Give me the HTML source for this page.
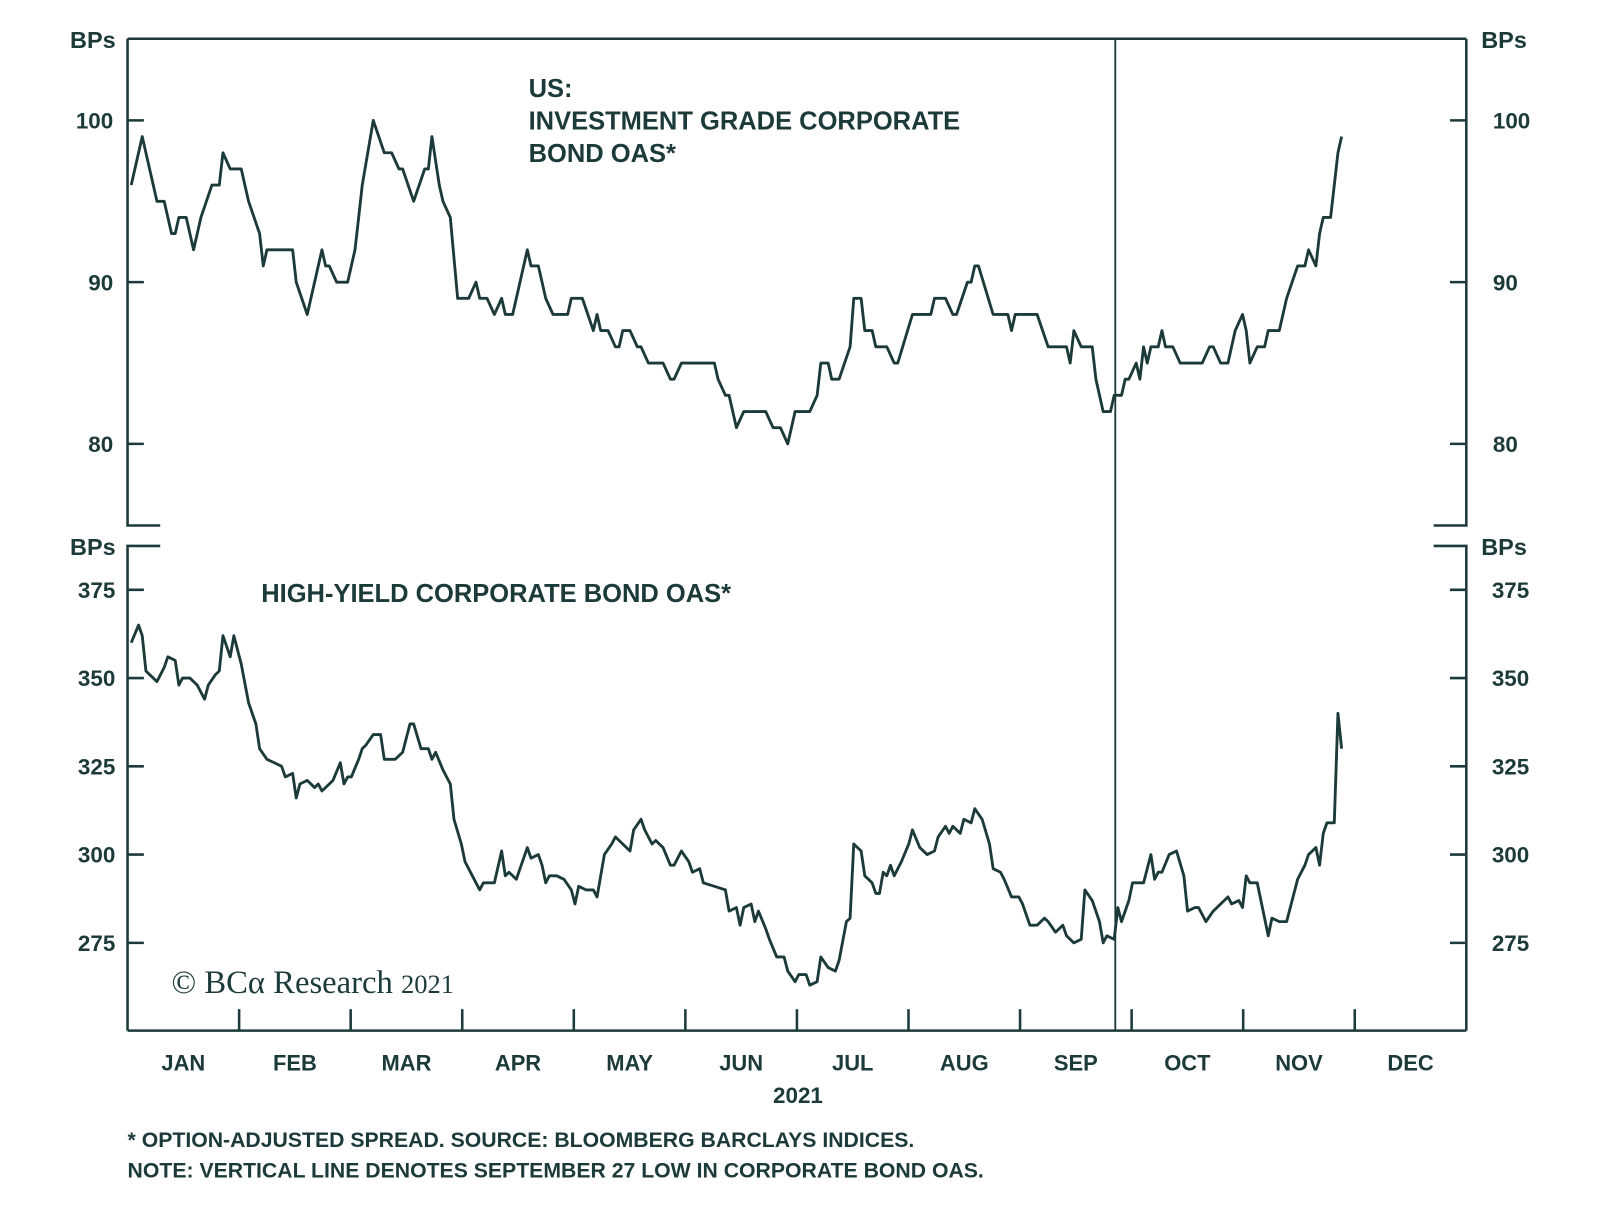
<!DOCTYPE html>
<html><head><meta charset="utf-8"><style>
body{margin:0;background:#fff}
svg text{font-family:"Liberation Sans",sans-serif;font-weight:bold;fill:#1d3a3a}
</style></head><body>
<svg id="chart" width="1600" height="1211" viewBox="0 0 1600 1211">
<g transform="scale(1.0204)">
<g id="frame" stroke="#1d3a3a" stroke-width="2.5" fill="none">
<line x1="125" y1="38" x2="1437" y2="38"/>
<line x1="125" y1="1010" x2="1437" y2="1010"/>
<polyline points="157,515 125,515 125,38"/>
<polyline points="1405,515 1437,515 1437,38"/>
<polyline points="157,535 125,535 125,1010"/>
<polyline points="1405,535 1437,535 1437,1010"/>
<line x1="1093" y1="38" x2="1093" y2="1010" stroke-width="1.8"/>
</g>
<g id="ticks"></g>
<g id="labels"></g>
<path id="ig-line" fill="none" stroke="#1d3a3a" stroke-width="2.8" stroke-linejoin="round"/>
<path id="hy-line" fill="none" stroke="#1d3a3a" stroke-width="2.8" stroke-linejoin="round"/>
<text x="91" y="47" font-size="23" text-anchor="middle">BPs</text>
<text x="1474" y="47" font-size="23" text-anchor="middle">BPs</text>
<text x="91" y="544" font-size="23" text-anchor="middle">BPs</text>
<text x="1474" y="544" font-size="23" text-anchor="middle">BPs</text>
<text x="518" y="95" font-size="25">US:</text>
<text x="518" y="127" font-size="25">INVESTMENT GRADE CORPORATE</text>
<text x="518" y="159" font-size="25">BOND OAS*</text>
<text x="256" y="590" font-size="25">HIGH-YIELD CORPORATE BOND OAS*</text>
<text x="168" y="973" font-size="32" style="font-family:'Liberation Serif',serif;font-weight:normal">© BCα Research <tspan font-size="26">2021</tspan></text>
<text x="782" y="1081" font-size="22" text-anchor="middle">2021</text>
<text x="125" y="1124" font-size="20.8">* OPTION-ADJUSTED SPREAD. SOURCE: BLOOMBERG BARCLAYS INDICES.</text>
<text x="125" y="1154" font-size="20.8">NOTE: VERTICAL LINE DENOTES SEPTEMBER 27 LOW IN CORPORATE BOND OAS.</text>
</g>
</svg>
<script>
const months=["JAN","FEB","MAR","APR","MAY","JUN","JUL","AUG","SEP","OCT","NOV","DEC"];
const igTicks=[80,90,100];
const hyTicks=[275,300,325,350,375];
const igDays=[1,3,4,5,7,8,10,12,13,14,16,18,20,23,25,26,28,31,33,36,37,38,45,46,49,50,53,54,55,57,60,62,63,64,67,70,72,74,75,78,81,82,83,85,86,88,90,93,95,96,98,100,102,103,105,106,108,109,110,112,114,116,120,121,124,127,128,129,131,133,134,135,137,139,140,142,146,148,149,151,160,161,163,164,166,168,174,176,178,180,182,186,188,189,191,192,194,197,198,200,201,203,204,207,209,210,214,217,219,220,223,225,226,229,230,231,232,236,240,241,242,248,251,256,257,258,260,263,264,266,268,269,271,272,273,275,276,277,278,279,281,282,283,285,287,293,295,296,298,300,302,304,305,306,308,310,311,314,316,319,321,322,324,325,326,328,330,331];
const igValues=[96,98,99,98,96,95,95,93,93,94,94,92,94,96,96,98,97,97,95,93,91,92,92,90,88,89,92,91,91,90,90,92,94,96,100,98,98,97,97,95,97,97,99,96,95,94,89,89,90,89,89,88,89,88,88,89,91,92,91,91,89,88,88,89,89,87,88,87,87,86,86,87,87,86,86,85,85,84,84,85,85,84,83,83,81,82,82,81,81,80,82,82,83,85,85,84,84,86,89,89,87,87,86,86,85,85,88,88,88,89,89,88,88,90,90,91,91,88,88,87,88,88,86,86,85,87,86,86,84,82,82,83,83,84,84,85,84,86,85,86,86,87,86,86,85,85,86,86,85,85,87,88,87,85,86,86,87,87,89,91,91,92,91,93,94,94,98,99];
const hyDays=[1,3,4,5,7,8,10,11,13,14,15,17,19,21,22,24,25,26,28,29,31,33,35,36,38,40,42,43,45,46,47,49,51,52,53,55,56,58,59,60,61,63,64,65,67,69,70,73,75,76,77,78,80,82,83,84,86,88,89,91,92,94,96,97,100,102,103,104,106,107,109,110,112,113,114,115,117,119,121,122,123,125,127,128,130,132,133,135,137,138,140,141,143,144,146,148,149,151,153,154,156,157,160,163,164,166,167,168,170,171,172,174,175,177,179,180,182,183,185,186,188,189,191,193,194,196,197,198,200,201,203,204,205,206,207,208,209,211,213,214,216,218,220,221,223,224,225,227,228,230,231,233,235,236,238,239,241,243,244,246,248,250,251,253,255,256,258,260,261,263,265,266,267,269,270,271,273,274,277,279,280,281,282,284,286,288,289,291,292,294,296,297,299,300,301,303,304,305,306,308,311,312,314,316,317,319,321,322,324,325,326,327,329,330,331];
const hyValues=[360,365,362,352,350,349,353,356,355,348,350,350,348,344,348,351,352,362,356,362,354,343,337,330,327,326,325,322,323,316,320,321,319,320,318,320,321,326,320,322,322,327,330,331,334,334,327,327,329,333,337,337,330,330,327,329,324,320,310,303,298,294,290,292,292,301,294,295,293,296,302,299,300,297,292,294,294,293,290,286,291,290,290,288,300,303,305,303,301,307,310,307,303,304,302,297,297,301,298,295,296,292,291,290,284,285,280,285,286,281,284,279,276,271,271,267,264,266,266,263,264,271,268,267,270,281,282,303,301,294,292,289,289,295,294,297,294,298,303,307,302,300,301,305,308,306,308,306,310,309,313,310,303,296,295,293,288,288,286,280,280,282,281,278,280,277,275,276,290,287,281,275,277,276,285,281,287,292,292,300,293,295,295,300,301,294,284,285,285,281,284,285,287,288,286,287,285,294,292,292,277,282,281,281,285,293,297,300,302,297,306,309,309,340,330];

const NS="http://www.w3.org/2000/svg";
const X0=125,X1=1437;
const xOf=d=>X0+(X1-X0)*d/365;
const xMonth=m=>X0+(X1-X0)*m/12;
const yIG=v=>118+(100-v)*15.85;
const yHY=v=>578+(375-v)*3.46;
function mk(tag,attrs,parent,txt){const e=document.createElementNS(NS,tag);for(const k in attrs)e.setAttribute(k,attrs[k]);if(txt!==undefined)e.textContent=txt;parent.appendChild(e);return e;}
const tg=document.getElementById('ticks'),lg=document.getElementById('labels');
const st={stroke:"#1d3a3a","stroke-width":2.5};
igTicks.forEach(v=>{const y=yIG(v);
 let a=mk('line',Object.assign({x1:125,x2:141,y1:y,y2:y},st),tg);
 let b=mk('line',Object.assign({x1:1421,x2:1437,y1:y,y2:y},st),tg);
 let t=mk('text',{x:111,y:y+8,"font-size":22,"text-anchor":"end"},lg,String(v));
 let r=mk('text',{x:1463,y:y+8,"font-size":22},lg,String(v));
});
hyTicks.forEach(v=>{const y=yHY(v);
 let a=mk('line',Object.assign({x1:125,x2:141,y1:y,y2:y},st),tg);
 let b=mk('line',Object.assign({x1:1421,x2:1437,y1:y,y2:y},st),tg);
 let t=mk('text',{x:113,y:y+8,"font-size":22,"text-anchor":"end"},lg,String(v));
 let r=mk('text',{x:1462,y:y+8,"font-size":22},lg,String(v));
});
months.forEach((m,i)=>{
 if(i>0){const x=xMonth(i);let a=mk('line',Object.assign({x1:x,x2:x,y1:1010,y2:989},st),tg);}
 const xc=xMonth(i+0.5);
 let t=mk('text',{x:xc,y:1049,"font-size":21.5,"text-anchor":"middle"},lg,m);
});
document.getElementById('ig-line').setAttribute('d',igDays.map((d,i)=>(i?'L':'M')+xOf(d).toFixed(1)+','+yIG(igValues[i]).toFixed(1)).join(''));
document.getElementById('hy-line').setAttribute('d',hyDays.map((d,i)=>(i?'L':'M')+xOf(d).toFixed(1)+','+yHY(hyValues[i]).toFixed(1)).join(''));
</script>
</body></html>
